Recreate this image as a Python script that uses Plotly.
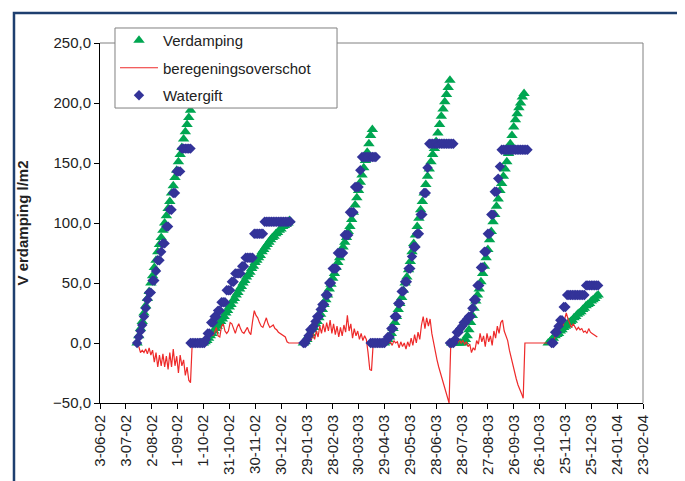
import pandas as pd
import plotly.graph_objects as go

# ---------------- data (2-day samples per period) ----------------
# Verdamping (cumulative evaporation, l/m2)
verdamping_starts = ["2002-07-16", "2002-09-27", "2003-01-25", "2003-04-29", "2003-07-16", "2003-11-05"]
verdamping_1 = [0, 6, 12, 18, 25, 31, 37, 43, 50, 56, 63, 69, 76, 82, 88, 94, 100, 106, 112, 118,
                125, 131, 138, 144, 151, 157, 163, 170, 176, 182, 188, 194]
verdamping_2 = [0, 0, 0, 1, 2, 4, 6, 8, 10, 12, 14, 16, 18, 20, 22, 25, 27, 30, 32, 35, 37, 40, 42, 45,
                47, 50, 52, 55, 57, 59, 62, 64, 67, 69, 71, 73, 76, 78, 80, 82, 84, 86, 88, 89, 91, 92,
                94, 95, 97, 98, 99, 100, 102]
verdamping_3 = [0, 1, 3, 6, 8, 11, 13, 16, 18, 21, 24, 28, 32, 36, 40, 45, 49, 54, 58, 63, 67, 71, 76,
                80, 84, 88, 93, 97, 103, 109, 115, 121, 127, 134, 140, 146, 152, 159, 166, 173, 178]
verdamping_4 = [0, 1, 3, 5, 8, 12, 17, 22, 28, 33, 38, 44, 50, 55, 61, 68, 76, 83, 90, 97, 104, 111,
                118, 125, 132, 139, 145, 151, 157, 162, 168, 175, 182, 189, 195, 201, 207, 213, 219]
verdamping_5 = [0, 0, 0, 0, 0, 0, 0, 1, 3, 6, 11, 17, 23, 29, 35, 40, 45, 51, 58, 64, 71, 78, 86, 93,
                101, 107, 114, 120, 127, 133, 139, 145, 151, 158, 166, 173, 180, 186, 191, 196, 200,
                205, 208]
verdamping_6 = [0, 1, 3, 4, 6, 7, 8, 10, 11, 13, 14, 15, 17, 18, 19, 21, 22, 24, 25, 26, 28, 29, 31,
                32, 33, 35, 36, 37, 39, 40]

# Watergift (cumulative irrigation, l/m2)
watergift_starts = ["2002-07-16", "2002-09-16", "2003-01-25", "2003-04-13", "2003-07-14", "2003-11-09"]
watergift_1 = [0, 5, 10, 15, 22, 29, 36, 42, 42, 52, 52, 60, 69, 69, 76, 83, 83, 97, 97, 111, 111,
               125, 125, 143, 143, 143, 162, 162, 162, 162, 162, 162]
watergift_2 = [0, 0, 0, 0, 0, 0, 0, 0, 0,
               3, 8, 8, 17, 17, 22, 22, 27, 27, 34, 34, 34, 44, 44, 44, 51, 51, 58, 58, 58, 58, 64,
               64, 71, 71, 71, 71, 71, 91, 91, 91, 91, 91, 91,
               101, 101, 101, 101, 101, 101, 101, 101, 101, 101, 101, 101, 101, 101, 101, 101]
watergift_3 = [0, 0, 3, 6, 11, 11, 14, 18, 22, 22, 28, 32, 32, 40, 40, 50, 50, 62, 62, 62, 75, 75, 75,
               75, 90, 90, 90, 109, 109, 109, 130, 130, 130, 144,
               155, 155, 155, 155, 155, 155, 155, 155, 155]
watergift_4 = [0, 0, 0, 0, 0, 0, 0, 0, 0,
               2, 5, 5, 12, 12, 22, 22, 33, 33, 43, 43, 51, 51, 62, 62, 72, 80, 80, 91, 91, 107, 107,
               125, 125, 146,
               166, 166, 166, 166, 166, 166, 166, 166, 166, 166, 166, 166, 166, 166, 166]
watergift_5 = [0, 0, 0, 3, 9, 9, 12, 14, 17, 17, 20, 22, 22, 29, 36, 36, 48, 48, 63, 63, 76, 76, 91,
               91, 107, 107, 126, 126, 137, 147,
               161, 161, 161, 161, 161, 161, 161, 161, 161, 161, 161, 161, 161, 161, 161, 161]
watergift_6 = [0, 0, 9, 9, 14, 19, 19, 30, 30, 40, 40, 40, 40, 40, 40, 40, 40, 40, 40, 40,
               48, 48, 48, 48, 48, 48, 48, 48]

# beregeningsoverschot (irrigation surplus, l/m2), from 2002-07-16 every 2 days
overschot_start = "2002-07-16"
overschot = [
    0, -3, -8, -6, -8, -5, -9, -4, -10, -6, -16, -8, -20, -10, -19, -9, -20, -11, -22, -8,
    -20, -5, -19, -11, -25, -10, -19, -14, -27, -20, -31, -33,
    0, 0, 0, 1, 0, 3, 1, 5, 3, 8, 4, 10, 6, 9, 13, 6, 5, 14, 16, 10, 8, 10, 17, 16, 11, 8, 13,
    16, 12, 9, 8, 10, 13, 9, 7, 18, 27, 23, 21, 17, 14, 13, 18, 21, 16, 13, 14, 15, 12, 11, 9,
    8, 7, 6, 5, 1, 0, 0, 0, 0, 0, 0, 0, 0, 0,
    0, 2, 0, 4, 2, 8, 3, 10, 5, 14, 8, 16, 9, 17, 10, 19, 8, 16, 7, 14, 5, 13, 6, 15, 9, 23, 10,
    16, 4, 12, 6, 10, 3, 8, 2, 6, 3, -8, -22, -23,
    0, 0, 0, 0, 0, 0, 0, 0, 1, 0, 1, -2, 2, 0, 1, -4, 1, -3, 0, -5, 1, -3, 4, -2, 7, 0, 9, 3, 15,
    22, 12, 21, 14, 20, 8, 0, -8, -14, -20, -25, -30, -35, -40, -44, -50,
    0, 0, 0, 2, 0, 3, 0, 2, -1, 1, -3, -1, -8, -4, -6, 2, -1, 8, 1, 6, -3, 8, 1, 6, -2, 10, 4, 14,
    8, 17, 19, 10, 6, 2, -6, -12, -20, -25, -30, -35, -38, -42, -46,
    0, 0, 0, 0, 0, 0, 0, 0, 0, 0, 0, 0, 0, 0, 0,
    0, 0, 3, 8, 13, 10, 17, 14, 21, 25, 20, 16, 13, 16, 14, 11, 13, 11, 12, 9, 10, 8, 12, 9, 8,
    7, 6, 5]

tick_labels = ["3-06-02", "3-07-02", "2-08-02", "1-09-02", "1-10-02", "31-10-02", "30-11-02",
               "30-12-02", "29-01-03", "28-02-03", "30-03-03", "29-04-03", "29-05-03", "28-06-03",
               "28-07-03", "27-08-03", "26-09-03", "26-10-03", "25-11-03", "25-12-03", "24-01-04",
               "23-02-04"]

# ---------------- assemble ----------------
def concat(starts, segs):
    xs, ys = [], []
    for s, vals in zip(starts, segs):
        xs += list(pd.date_range(s, periods=len(vals), freq="2D"))
        ys += list(vals)
    return xs, ys

vx, vy = concat(verdamping_starts, [verdamping_1, verdamping_2, verdamping_3,
                                    verdamping_4, verdamping_5, verdamping_6])
wx, wy = concat(watergift_starts, [watergift_1, watergift_2, watergift_3,
                                   watergift_4, watergift_5, watergift_6])
ox = list(pd.date_range(overschot_start, periods=len(overschot), freq="2D"))
tickvals = [pd.to_datetime(t, format="%d-%m-%y") for t in tick_labels]

FONT = "Liberation Sans, Arial, sans-serif"
TXT = "#222222"

fig = go.Figure()
fig.add_trace(go.Scatter(x=vx, y=vy, mode="markers", name="Verdamping", legendgroup="a",
                         marker=dict(symbol="triangle-up", size=10, color="#00a651")))
fig.add_trace(go.Scatter(x=ox, y=overschot, mode="lines", name="beregeningsoverschot",
                         legendgroup="b", line=dict(color="#ee2a2a", width=1.2)))
fig.add_trace(go.Scatter(x=wx, y=wy, mode="markers", name="Watergift", legendgroup="c",
                         marker=dict(symbol="diamond", size=8, color="#333399")))

# plot area in figure coords: x 92..635, y 35..395 (page body adds 8px offset)
fig.update_layout(
    width=685, height=481,
    margin=dict(l=92, r=50, t=35, b=86),
    paper_bgcolor="white", plot_bgcolor="white",
    separators=",.",
    font=dict(family=FONT, size=15, color=TXT),
    showlegend=True,
    legend=dict(x=0.0276, y=1.0528, xanchor="left", yanchor="top",
                bgcolor="rgba(0,0,0,0)", borderwidth=0,
                font=dict(family=FONT, size=15, color=TXT),
                traceorder="grouped", tracegroupgap=5, itemwidth=38),
    xaxis=dict(type="date", range=["2002-06-03", "2004-02-23"], automargin=False,
               tickmode="array", tickvals=tickvals, ticktext=tick_labels,
               tickangle=-90, ticks="outside", ticklen=5, tickcolor="black",
               showline=True, linecolor="black", linewidth=1, showgrid=False, zeroline=False,
               tickfont=dict(family=FONT, size=15, color=TXT)),
    yaxis=dict(range=[-50, 250], dtick=50, tick0=0, tickformat=".1f", automargin=False,
               ticks="outside", ticklen=5, tickcolor="black",
               showline=True, linecolor="black", linewidth=1, showgrid=False, zeroline=False,
               tickfont=dict(family=FONT, size=15, color=TXT),
               title=dict(text="<b>V erdamping l/m2</b>", standoff=20,
                          font=dict(family=FONT, size=15, color=TXT))),
    shapes=[
        dict(type="line", xref="paper", yref="paper", x0=0, x1=1, y0=1, y1=1,
             line=dict(color="#808080", width=1)),
        dict(type="line", xref="paper", yref="paper", x0=1, x1=1, y0=0, y1=1,
             line=dict(color="#808080", width=1)),
        dict(type="rect", xref="paper", yref="paper", x0=-0.1584, x1=1.2, y0=-0.3, y1=1.0833,
             line=dict(color="#1e3f6f", width=2.5), fillcolor="rgba(0,0,0,0)", layer="below"),
        # legend box
        dict(type="rect", xref="paper", yref="paper", x0=0.0276, x1=0.4365, y0=0.8194, y1=1.0417,
             line=dict(color="#808080", width=1), fillcolor="white", layer="above"),
    ],
)

fig.write_html("out.html")
